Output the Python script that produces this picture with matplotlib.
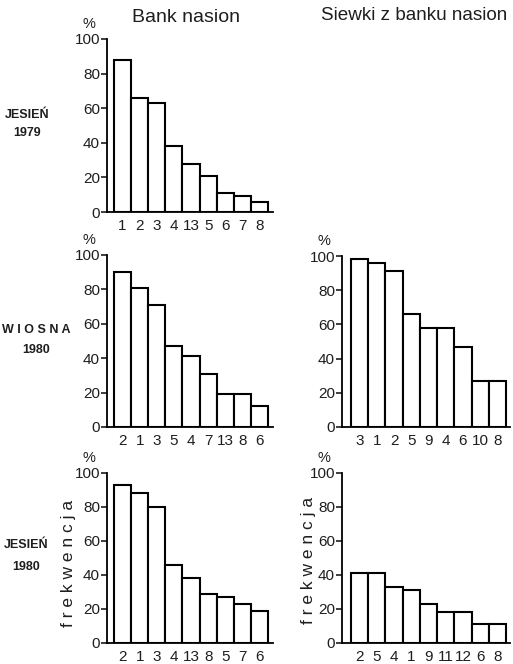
import matplotlib
matplotlib.use('Agg')
from matplotlib import pyplot as plt

plt.rcParams['font.family'] = ['Liberation Sans', 'DejaVu Sans']

# bank nasion - jesien 1979
lab_j79_bank = ['1', '2', '3', '4', '13', '5', '6', '7', '8']
val_j79_bank = [88, 66, 63, 38, 28, 21, 11, 9, 6]

# bank nasion - wiosna 1980
lab_w80_bank = ['2', '1', '3', '5', '4', '7', '13', '8', '6']
val_w80_bank = [90, 81, 71, 47, 41, 31, 19, 19, 12]

# bank nasion - jesien 1980
lab_j80_bank = ['2', '1', '3', '4', '13', '8', '5', '7', '6']
val_j80_bank = [93, 88, 80, 46, 38, 29, 27, 23, 19]

# siewki - wiosna 1980
lab_w80_siew = ['3', '1', '2', '5', '9', '4', '6', '10', '8']
val_w80_siew = [98, 96, 91, 66, 58, 58, 47, 27, 27]

# siewki - jesien 1980
lab_j80_siew = ['2', '5', '4', '1', '9', '11', '12', '6', '8']
val_j80_siew = [41, 41, 33, 31, 23, 18, 18, 11, 11]

W, H = 513, 664
fig = plt.figure(figsize=(W / 100, H / 100), dpi=100)
ink = '#1e1e1e'


def panel(x0, x1, ytop, ybot, labels, vals, xlo, xhi):
    ax = fig.add_axes([x0 / W, 1 - ybot / H, (x1 - x0) / W, (ybot - ytop) / H])
    pos = list(range(len(vals)))
    ax.bar(pos, vals, width=1.0, color='white', edgecolor='black', linewidth=1.5)
    ax.set_xlim(xlo, xhi)
    ax.set_ylim(0, 100)
    ax.set_yticks([0, 20, 40, 60, 80, 100])
    ax.set_xticks(pos)
    ax.set_xticklabels(labels)
    ax.spines['top'].set_visible(False)
    ax.spines['right'].set_visible(False)
    ax.spines['left'].set_linewidth(1.3)
    ax.spines['bottom'].set_linewidth(1.3)
    ax.tick_params(axis='y', direction='out', length=4, width=1.2, pad=1,
                   labelsize=11, colors=ink)
    ax.tick_params(axis='x', length=0, pad=5, labelsize=11, colors=ink)
    # "%" sign above the y axis
    ax.annotate('%', xy=(0, 1), xycoords='axes fraction', xytext=(-13, 11),
                textcoords='offset points', ha='center', va='center',
                fontsize=10.5, color=ink)
    return ax


# left column
panel(107, 273, 39, 212, lab_j79_bank, val_j79_bank, -0.91, 8.79)
panel(107, 273, 255, 427, lab_w80_bank, val_w80_bank, -0.91, 8.79)
panel(107, 273, 473, 643, lab_j80_bank, val_j80_bank, -0.91, 8.79)
# right column
panel(342, 510, 256, 427, lab_w80_siew, val_w80_siew, -1.02, 8.73)
panel(342, 510, 473, 643, lab_j80_siew, val_j80_siew, -1.02, 8.73)

# column titles
fig.text(186 / W, 1 - 17 / H, 'Bank nasion', ha='center', va='center',
         fontsize=14, color=ink)
fig.text(414 / W, 1 - 16 / H, 'Siewki z banku nasion', ha='center', va='center',
         fontsize=13.6, color=ink)

# row labels
rows = [('JESIEŃ', '1979', 27, 115, 133),
        ('W I O S N A', '1980', 36, 330, 350),
        ('JESIEŃ', '1980', 26, 545, 567)]
for t1, t2, x, y1, y2 in rows:
    fig.text(x / W, 1 - y1 / H, t1, ha='center', va='center', fontsize=9,
             fontweight='bold', color=ink)
    fig.text(x / W, 1 - y2 / H, t2, ha='center', va='center', fontsize=9,
             fontweight='bold', color=ink)

# y labels
for x, y in [(68, 563), (308, 560)]:
    fig.text(x / W, 1 - y / H, 'f r e k w e n c j a', rotation=90, ha='center',
             va='center', fontsize=12.5, color=ink)

fig.savefig('out.png', dpi=100)
